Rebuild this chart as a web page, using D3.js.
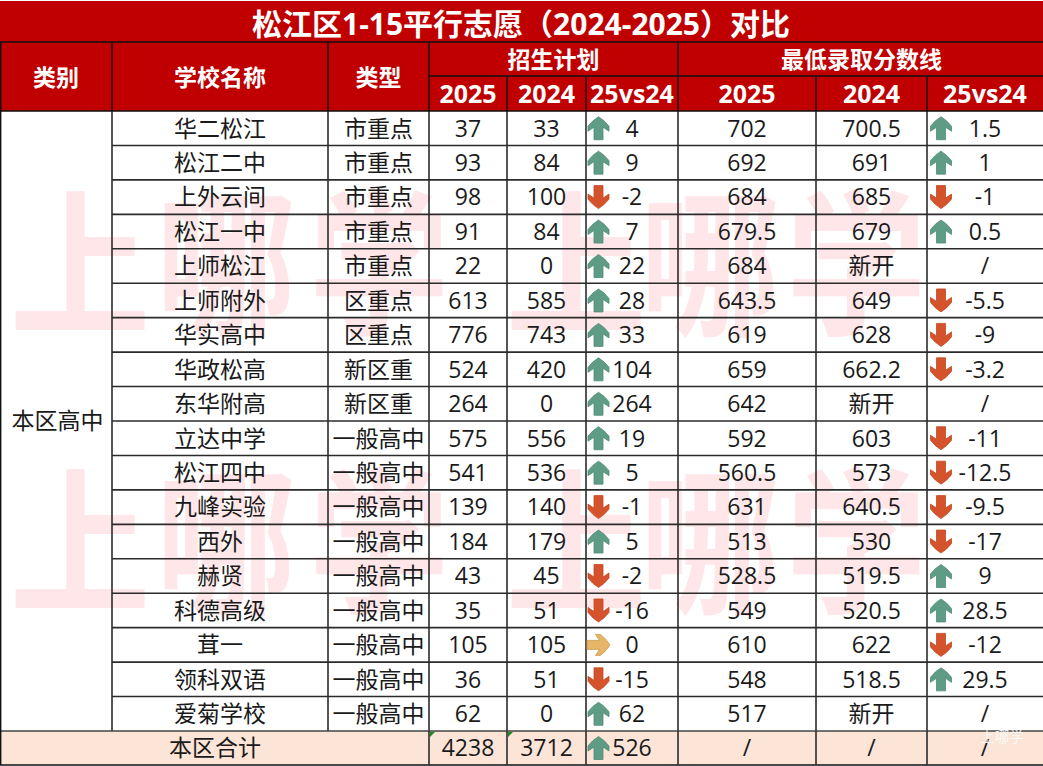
<!DOCTYPE html>
<html><head><meta charset="utf-8">
<script src="https://cdn.jsdelivr.net/npm/d3@7"></script>
<style>html,body{margin:0;padding:0;background:#fff;overflow:hidden}svg{display:block}
text{font-family:"Open Sans","Noto Sans CJK SC",sans-serif}</style></head><body>
<script>
const title = "松江区1-15平行志愿（2024-2025）对比";
const category = "本区高中";
const schools = ["华二松江","松江二中","上外云间","松江一中","上师松江","上师附外","华实高中","华政松高","东华附高","立达中学","松江四中","九峰实验","西外","赫贤","科德高级","茸一","领科双语","爱菊学校"];
const types = ["市重点","市重点","市重点","市重点","市重点","区重点","区重点","新区重","新区重","一般高中","一般高中","一般高中","一般高中","一般高中","一般高中","一般高中","一般高中","一般高中"];
const plan2025 = [37,93,98,91,22,613,776,524,264,575,541,139,184,43,35,105,36,62];
const plan2024 = [33,84,100,84,0,585,743,420,0,556,536,140,179,45,51,105,51,0];
const planDelta = [4,9,-2,7,22,28,33,104,264,19,5,-1,5,-2,-16,0,-15,62];
const score2025 = [702,692,684,679.5,684,643.5,619,659,642,592,560.5,631,513,528.5,549,610,548,517];
const score2024 = [700.5,691,685,679,"新开",649,628,662.2,"新开",603,573,640.5,530,519.5,520.5,622,518.5,"新开"];
const scoreDelta = [1.5,1,-1,0.5,"/",-5.5,-9,-3.2,"/",-11,-12.5,-9.5,-17,9,28.5,-12,29.5,"/"];
const totals = ["本区合计",4238,3712,526,"/","/","/"];
const colKeys = ["cat","name","type","p25","p24","pd","s25","s24","sd"];
const colEdges = [0,112,328,429,507,586,678,816,927,1043];

const W=1043,H=766;
const svg=d3.select("body").append("svg").attr("width",W).attr("height",H);
const RED="#c00000", LINE="#2b2b2b";
const edge=d3.scaleOrdinal().domain(colKeys).range(colEdges);
const left=k=>edge(k), right=k=>colEdges[colKeys.indexOf(k)+1], mid=k=>(left(k)+right(k))/2;
const y=d3.scaleBand().domain(d3.range(schools.length)).range([111,731]);
const yc=i=>y(i)+y.bandwidth()/2;

// fills
svg.append("rect").attr("x",0).attr("y",1).attr("width",W).attr("height",110).attr("fill",RED);
svg.append("rect").attr("x",0).attr("y",731).attr("width",W).attr("height",34).attr("fill","#fce4d6");

// watermark
const wmChars=["上","哪","学"];
const wmGroups=[[80,226,379],[576,710,856]], wmRows=[323,601];
wmRows.forEach(ry=>wmGroups.forEach(g=>g.forEach((cx,i)=>{
  svg.append("text").attr("transform",`translate(${cx},${ry}) scale(0.95,1.06)`).attr("text-anchor","middle")
    .attr("font-size",148).attr("font-weight",700).attr("fill","#ffe6e8").text(wmChars[i]);
})));

// grid
const line=(x1,y1,x2,y2,c=LINE,w=1.6)=>svg.append("line").attr("x1",x1).attr("y1",y1).attr("x2",x2).attr("y2",y2).attr("stroke",c).attr("stroke-width",w);
d3.range(1,schools.length).forEach(i=>line(112,y(i),W,y(i)));
colEdges.slice(1,-1).forEach(x=>line(x,111,x,731));
line(0,42,W,42,"#111",1.6);
line(0,111,W,111,"#111",1.6);
line(429,76,W,76,"#111",1.4);
[112,328,429,678].forEach(x=>line(x,42,x,111,"#111",1.4));
[507,586,816,927].forEach(x=>line(x,76,x,111,"#111",1.4));
line(0,731,W,731,"#444",1.6);
line(0,765,W,765,"#111",1.6);
line(0.7,42,0.7,765,"#111",1.4);
colEdges.slice(3,-1).forEach(x=>line(x,731,x,765));

// text helper
const T=(x,yy,s,o={})=>svg.append("text").attr("x",x).attr("y",yy).attr("dy","0.36em").attr("text-anchor","middle")
  .attr("font-size",o.size||23).attr("font-weight",o.bold?700:400).attr("fill",o.fill||"#1a1a1a").text(s);

// header
T(W/2-0.5,24,title,{size:30,bold:1,fill:"#fff"});
const hdr={size:23,bold:1,fill:"#fff"};
T(mid("cat"),78,"类别",hdr);T(mid("name"),78,"学校名称",hdr);T(mid("type"),78,"类型",hdr);
T((429+678)/2,60,"招生计划",hdr);T((678+W)/2+1,60,"最低录取分数线",hdr);
const sub=["2025","2024","25vs24","2025","2024","25vs24"];
["p25","p24","pd","s25","s24","sd"].forEach((k,i)=>T(mid(k),94,sub[i],{size:25,bold:1,fill:"#fff"}));

// arrows
const ICON={up:"#5f9c85",down:"#d4532c",flat:"#e6b567"}, ICON_S={up:"#4f8c76",down:"#c4471f",flat:"#c99b4e"};
const upPath=d3.path();
upPath.moveTo(0,-11.5);
upPath.quadraticCurveTo(6,-8,10.5,-2);
upPath.lineTo(10.5,3);
upPath.lineTo(4.5,-1);
upPath.lineTo(4.5,11.5);
upPath.lineTo(-4.5,11.5);
upPath.lineTo(-4.5,-1);
upPath.lineTo(-10.5,3);
upPath.lineTo(-10.5,-2);
upPath.quadraticCurveTo(-6,-8,0,-11.5);
upPath.closePath();
function arrow(x,cy,v){
  const dir=v>0?"up":v<0?"down":"flat", rot=v>0?0:v<0?180:90;
  svg.append("path").attr("d",upPath.toString()).attr("transform",`translate(${x},${cy}) rotate(${rot})`)
    .attr("fill",ICON[dir]).attr("stroke",ICON_S[dir]).attr("stroke-width",0.8).attr("stroke-linejoin","round");
}

// body
T(mid("cat")+1.5,421,category);
schools.forEach((s,i)=>{
  const c=yc(i);
  T(mid("name"),c,s);
  T(mid("type"),c,types[i]);
  T(mid("p25"),c,plan2025[i]);
  T(mid("p24"),c,plan2024[i]);
  arrow(598.5,c,planDelta[i]);
  T(mid("pd"),c,planDelta[i]);
  T(mid("s25"),c,score2025[i]);
  T(mid("s24"),c,score2024[i]);
  if(typeof scoreDelta[i]==="number") arrow(941,c,scoreDelta[i]);
  T(mid("sd"),c,scoreDelta[i]);
});

// total
const ft=748;
T(215,ft,totals[0]);
T(mid("p25"),ft,totals[1]);T(mid("p24"),ft,totals[2]);
arrow(598.5,ft,totals[3]);T(mid("pd"),ft,totals[3]);
T(mid("s25"),ft,totals[4]);T(mid("s24"),ft,totals[5]);T(mid("sd"),ft,totals[6]);
[429,507].forEach(x=>svg.append("path").attr("d",d3.line()([[x+1,732],[x+6,732],[x+1,737]])+"Z").attr("fill","#1e8a1e"));

svg.append("text").attr("x",1002).attr("y",742).attr("text-anchor","middle").attr("font-size",14.5).attr("fill","#fff").attr("fill-opacity",0.85).text("上哪学");
</script></body></html>
